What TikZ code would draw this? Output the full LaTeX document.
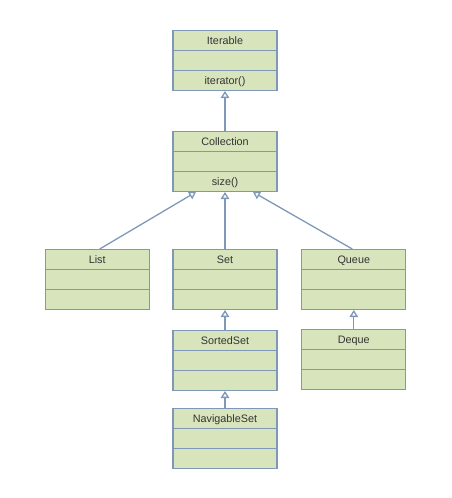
\documentclass[tikz,border=0pt]{standalone}
\usepackage{fontspec}
\setmainfont{Liberation Sans}
\usepackage{xcolor}
\usepackage{tikz}
\usetikzlibrary{arrows.meta,positioning,calc,shapes.multipart}

\definecolor{umlfill}{HTML}{D8E4BC}
\definecolor{umlline}{HTML}{7F98B8}
\definecolor{umltext}{HTML}{333333}

% one row of a class box
\newcommand{\rowstrut}{\rule[-5.6pt]{0pt}{18.6pt}}
\newcommand{\umlbox}[2]{\rowstrut#1\nodepart{two}\rowstrut\nodepart{three}\rowstrut#2}

\tikzset{
  umlclass/.style={rectangle split, rectangle split parts=3, draw=umlline,
    fill=umlfill, line width=1.3pt, text=umltext, font=\fontsize{10.8}{12}\selectfont,
    text width=98pt, align=center, inner xsep=3pt, inner ysep=0pt},
  inherit/.style={draw=umlline, line width=1.3pt,
    -{Triangle[open, width=8.5pt, length=7pt, fill=white]}},
}

\begin{document}
\begin{tikzpicture}[x=1pt, y=-1pt]
  \useasboundingbox (0,0) rectangle (451,498);

  \node[umlclass] (iterable) at (225,60.5) {\umlbox{Iterable}{iterator()}};
  \node[umlclass, below=40pt of iterable] (collection) {\umlbox{Collection}{size()}};
  \node[umlclass, below=57pt of collection] (set) {\umlbox{Set}{}};
  \node[umlclass, left=22.5pt of set] (list) {\umlbox{List}{}};
  \node[umlclass, right=23.5pt of set] (queue) {\umlbox{Queue}{}};
  \node[umlclass, below=20pt of set] (sortedset) {\umlbox{SortedSet}{}};
  \node[umlclass, below=19pt of queue] (deque) {\umlbox{Deque}{}};
  \node[umlclass, below=17pt of sortedset] (navigableset) {\umlbox{NavigableSet}{}};

  \draw[inherit] (collection.north) -- (iterable.south);
  \draw[inherit] ($(list.north)+(2.5pt,0)$) -- ($(collection.south)+(-29pt,0)$);
  \draw[inherit] (set.north) -- (collection.south);
  \draw[inherit] ($(queue.north)+(-1.5pt,0)$) -- ($(collection.south)+(28pt,0)$);
  \draw[inherit] (sortedset.north) -- (set.south);
  \draw[inherit] (deque.north) -- (queue.south);
  \draw[inherit] (navigableset.north) -- (sortedset.south);
\end{tikzpicture}
\end{document}
